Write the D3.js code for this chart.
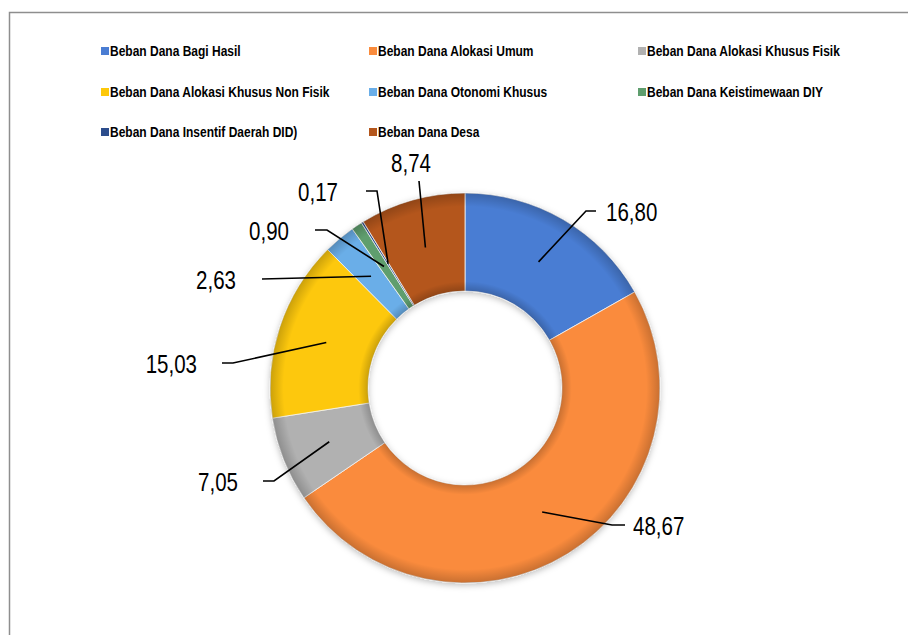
<!DOCTYPE html>
<html>
<head>
<meta charset="utf-8">
<script src="https://cdn.jsdelivr.net/npm/d3@7"></script>
<style>
  html, body { margin: 0; padding: 0; background: #fff; }
  #chart { width: 908px; height: 635px; }
  text { font-family: "Liberation Sans", Arial, sans-serif; fill: #000; }
</style>
</head>
<body>
<div id="chart"></div>
<script>
// data
const categories = [
    "Beban Dana Bagi Hasil",
    "Beban Dana Alokasi Umum",
    "Beban Dana Alokasi Khusus Fisik",
    "Beban Dana Alokasi Khusus Non Fisik",
    "Beban Dana Otonomi Khusus",
    "Beban Dana Keistimewaan DIY",
    "Beban Dana Insentif Daerah  DID)",
    "Beban Dana Desa"
];
const values = [16.80, 48.67, 7.05, 15.03, 2.63, 0.90, 0.17, 8.74];
const colors = ["#4a7dd3", "#fa8b3c", "#b1b1b1", "#fdc80a", "#6aaee8", "#5f9e6e", "#2c4d8c", "#b4561c"];

// label leader layout: elbow offset from donut centre, horizontal tail, text gap
const labelLayout = [
    {ex: 121, ey: -177, tail: 10, gap: 10},
    {ex: 147, ey: 137, tail: 13, gap: 8},
    {ex: -191, ey: 93, tail: -11, gap: -25},
    {ex: -232, ey: -25, tail: -11, gap: -25},
    {ex: -203, ey: -109, tail: 0, gap: -26},
    {ex: -138, ey: -158, tail: -12, gap: -26},
    {ex: -88, ey: -197, tail: -11, gap: -28},
    {ex: -46, ey: -207, tail: 0, gap: 0}
];

(function() {
    const width = 908, height = 635;
    const cx = 465, cy = 388, outerR = 195, innerR = 97;
    const narrow = 0.82; // squeeze to mimic a condensed face

    const svg = d3.select("#chart").append("svg")
        .attr("width", width).attr("height", height);

    // frame
    svg.append("rect")
        .attr("x", 9.5).attr("y", 12.5)
        .attr("width", 1000).attr("height", 1000)
        .attr("fill", "none")
        .attr("stroke", "#8e8e8e")
        .attr("stroke-width", 1.5);

    const addText = (parent, x, y, str, size, anchor, sx) =>
        parent.append("text")
            .attr("transform", `translate(${x},${y}) scale(${sx},1)`)
            .attr("dominant-baseline", "central")
            .attr("text-anchor", anchor)
            .style("font-size", size + "px")
            .text(str);

    // legend
    const legCols = [110, 378, 647], legRows = [51, 92, 132];
    const legend = svg.append("g");
    categories.forEach((c, i) => {
        const lx = legCols[i % 3], ly = legRows[Math.floor(i / 3)];
        legend.append("rect")
            .attr("x", lx - 9).attr("y", ly - 4)
            .attr("width", 8).attr("height", 8)
            .attr("fill", colors[i]);
        addText(legend, lx, ly, c, 15, "start", 0.8)
            .style("font-weight", "bold");
    });

    const defs = svg.append("defs");
    const shade = defs.append("radialGradient")
        .attr("id", "shade")
        .attr("gradientUnits", "userSpaceOnUse")
        .attr("cx", 0).attr("cy", 0).attr("r", outerR);
    [[innerR / outerR, 0.2], [innerR / outerR + 0.05, 0], [0.93, 0], [1, 0.2]].forEach(([o, a]) => {
        shade.append("stop").attr("offset", o).attr("stop-color", "#000").attr("stop-opacity", a);
    });
    const shadow = defs.append("filter").attr("id", "shadow")
        .attr("x", "-20%").attr("y", "-20%").attr("width", "140%").attr("height", "140%");
    shadow.append("feDropShadow")
        .attr("dx", 0).attr("dy", 2).attr("stdDeviation", 3)
        .attr("flood-color", "#000").attr("flood-opacity", 0.25);

    const pie = d3.pie().sort(null).value(d => d);
    const arcs = pie(values);
    const arc = d3.arc().innerRadius(innerR).outerRadius(outerR);

    const g = svg.append("g").attr("transform", `translate(${cx},${cy})`);

    g.append("g").attr("filter", "url(#shadow)")
        .selectAll("path")
        .data(arcs)
        .enter().append("path")
        .attr("d", arc)
        .attr("fill", (d, i) => colors[i])
        .attr("stroke", "#f4f4f4")
        .attr("stroke-width", 0.8);

    // soft edge shading
    g.append("path")
        .attr("d", d3.arc().innerRadius(innerR).outerRadius(outerR).startAngle(0).endAngle(2 * Math.PI)())
        .attr("fill", "url(#shade)")
        .attr("pointer-events", "none");

    // data labels
    const fmt = v => d3.format(".2f")(v).replace(".", ",");
    const labels = svg.append("g");
    arcs.forEach((d, i) => {
        const c = arc.centroid(d);
        const L = labelLayout[i];
        const p0 = [cx + c[0], cy + c[1]];
        const p1 = [cx + L.ex, cy + L.ey];
        const p2 = [p1[0] + L.tail, p1[1]];
        labels.append("path")
            .attr("d", d3.line()([p0, p1, p2]))
            .attr("fill", "none")
            .attr("stroke", "#000")
            .attr("stroke-width", 1.6);
        if (i === 7) {
            addText(labels, p1[0] - 8, p1[1] - 18, fmt(values[i]), 25, "middle", narrow);
        } else {
            addText(labels, p2[0] + L.gap, p2[1] + 1, fmt(values[i]), 25,
                L.gap < 0 ? "end" : "start", narrow);
        }
    });
})();
</script>
</body>
</html>
